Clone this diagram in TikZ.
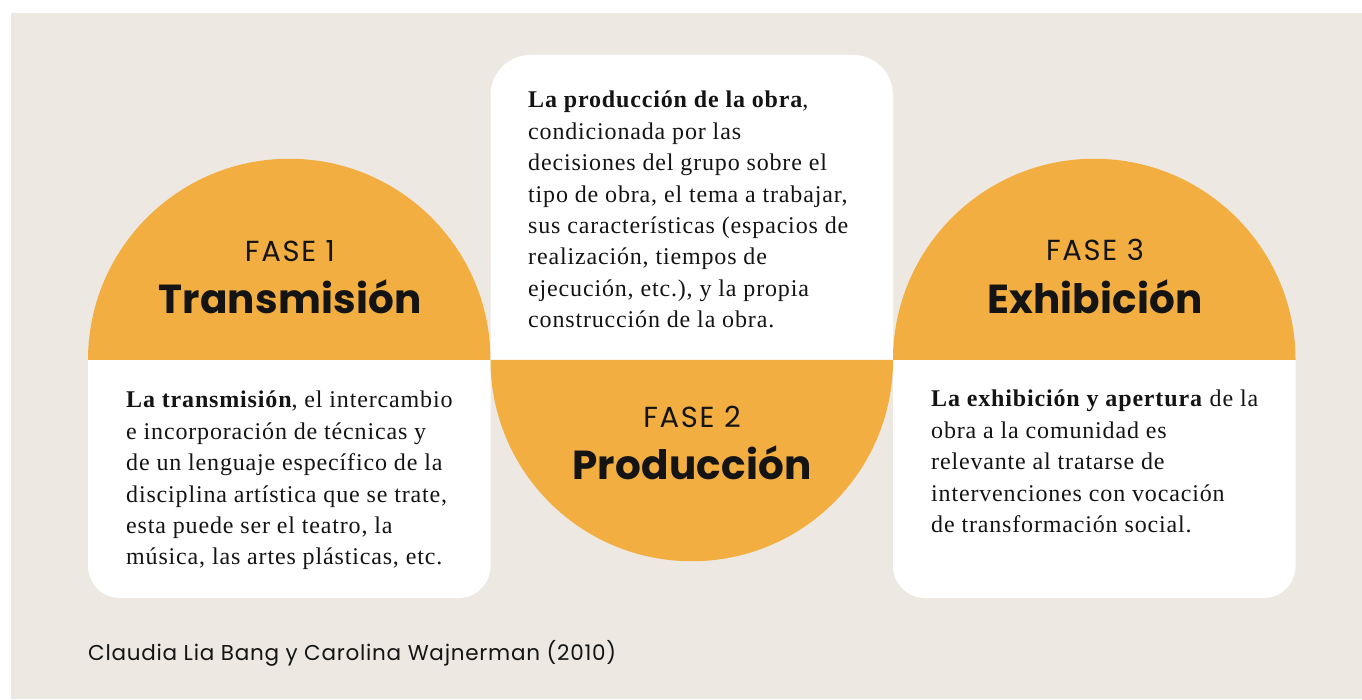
\documentclass[tikz,border=0pt]{standalone}
\usepackage{fontspec}
\setmainfont{Liberation Serif}[LetterSpace=3.5]
\newfontfamily\popfont{Poppins}
\newfontfamily\popfase{Poppins}[LetterSpace=6]
\newfontfamily\poptitle{Poppins}[LetterSpace=0.5]
\newfontfamily\popcite{Poppins}[LetterSpace=3.5]
\definecolor{beigebg}{RGB}{237,233,226}
\definecolor{orangeph}{RGB}{242,174,64}
\definecolor{ink}{RGB}{20,20,20}
\tikzset{
  bodytext/.style={anchor=base west, inner sep=0pt, text=ink},
  faselabel/.style={anchor=base, inner sep=0pt, text=ink, font=\popfase\fontsize{29}{34}\selectfont},
  titlelabel/.style={anchor=base, inner sep=0pt, text=ink, font=\poptitle\bfseries\fontsize{40.5}{46}\selectfont},
}
\newcommand{\bodybox}[1]{\parbox[t]{380pt}{\raggedright\fontsize{24}{31.4}\selectfont #1}}
\begin{document}
\begin{tikzpicture}[x=1pt,y=1pt]
\useasboundingbox (0,0) rectangle (1362,699);
\fill[white] (0,0) rectangle (1362,699);
\fill[beigebg] (11,0) rectangle (1362,686);
% left column
\fill[white] (88,339) -- (88,133) arc[start angle=180,end angle=270,radius=32] -- (458.5,101) arc[start angle=270,end angle=360,radius=32] -- (490.5,339) -- cycle;
\fill[orangeph] (88,339) arc[start angle=180,end angle=0,radius=201.25] -- cycle;
% middle column
\fill[white] (490.5,339) -- (490.5,604) arc[start angle=180,end angle=90,radius=40] -- (853,644) arc[start angle=90,end angle=0,radius=40] -- (893,339) -- cycle;
\fill[orangeph] (490.5,339) arc[start angle=180,end angle=360,radius=201.25] -- cycle;
% right column
\fill[white] (893,339) -- (893,133) arc[start angle=180,end angle=270,radius=32] -- (1263.5,101) arc[start angle=270,end angle=360,radius=32] -- (1295.5,339) -- cycle;
\fill[orangeph] (893,339) arc[start angle=180,end angle=0,radius=201.25] -- cycle;
% headings
\node[faselabel] (f1) at (290,437) {FASE 1};
\node[titlelabel] (t1) at (290,385) {Transmisión};
\node[faselabel] (f2) at (692,271) {FASE 2};
\node[titlelabel] (t2) at (692,219) {Producción};
\node[faselabel] (f3) at (1095,438) {FASE 3};
\node[titlelabel] (t3) at (1095,385) {Exhibición};
% body texts
\node[bodytext] (b1) at (126,291) {\bodybox{\textbf{La transmisión}, el intercambio\\
e incorporación de técnicas y\\
de un lenguaje específico de la\\
disciplina artística que se trate,\\
esta puede ser el teatro, la\\
música, las artes plásticas, etc.}};
\node[bodytext] (b2) at (528,591) {\bodybox{\textbf{La producción de la obra},\\
condicionada por las\\
decisiones del grupo sobre el\\
tipo de obra, el tema a trabajar,\\
sus características (espacios de\\
realización, tiempos de\\
ejecución, etc.), y la propia\\
construcción de la obra.}};
\node[bodytext] (b3) at (931,292) {\bodybox{\textbf{La exhibición y apertura} de la\\
obra a la comunidad es\\
relevante al tratarse de\\
intervenciones con vocación\\
de transformación social.}};
% citation
\node[anchor=base west, inner sep=0pt, text=ink, font=\popcite\fontsize{21.5}{25}\selectfont] (cite) at (88,39) {Claudia Lia Bang y Carolina Wajnerman (2010)};
\end{tikzpicture}
\end{document}
